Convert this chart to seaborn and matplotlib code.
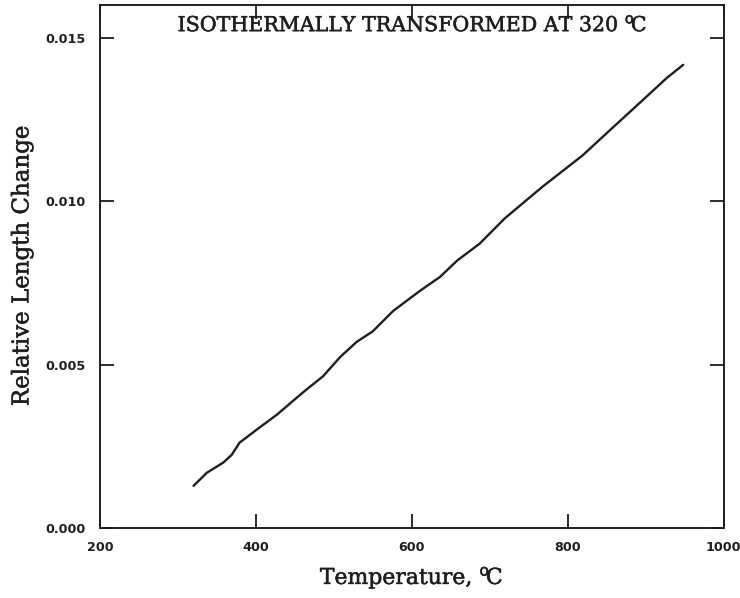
import matplotlib
matplotlib.use("Agg")
import matplotlib.pyplot as plt
import matplotlib.patheffects as pe
import seaborn as sns
import pandas as pd

# Dilatometer trace: temperature (°C) vs. relative length change
temperature = [320, 337, 358, 369, 379, 401, 427, 453, 465, 486, 508, 529, 550,
               576, 610, 636, 658, 687, 719, 768, 819, 854, 892, 927, 948]
length_change = [0.00129, 0.00169, 0.00200, 0.00224, 0.00261, 0.00301, 0.00347,
                 0.00400, 0.00424, 0.00464, 0.00523, 0.00569, 0.00602, 0.00664,
                 0.00725, 0.00768, 0.00818, 0.00870, 0.00947, 0.01045, 0.01140,
                 0.01217, 0.01300, 0.01377, 0.01417]

x_ticks = [200, 400, 600, 800, 1000]
x_tick_labels = ["200", "400", "600", "800", "1000"]
y_ticks = [0.000, 0.005, 0.010, 0.015]
y_tick_labels = ["0.000", "0.005", "0.010", "0.015"]

df = pd.DataFrame({"T": temperature, "dL": length_change})

sns.set_theme(style="ticks")
plt.rcParams["font.family"] = ["DejaVu Serif"]

ink = "#1e1e1e"
thick = [pe.withStroke(linewidth=0.35, foreground=ink)]

fig = plt.figure(figsize=(7.4, 5.98), dpi=100)
ax = fig.add_axes([0.1351, 0.117, 0.978 - 0.1351, 0.9916 - 0.117])

sns.lineplot(data=df, x="T", y="dL", ax=ax, color=ink, linewidth=1.7,
             sort=False, estimator=None)

ax.set_xlim(200, 1000)
ax.set_ylim(0, 0.016)
ax.set_xticks(x_ticks)
ax.set_yticks(y_ticks)
tick_font = dict(family="DejaVu Sans", weight="bold", size=9.2, color=ink)
ax.set_xticklabels(x_tick_labels, **tick_font)
ax.set_yticklabels(y_tick_labels, **tick_font)
ax.tick_params(axis="both", direction="in", length=10, width=1.3,
               top=True, right=True, color=ink)
ax.tick_params(axis="x", pad=9)
ax.tick_params(axis="y", pad=10)
for s in ax.spines.values():
    s.set_linewidth(1.4)
    s.set_color(ink)

xl = ax.set_xlabel("Temperature, $^{\\rm o}\\!$C", fontsize=15.8,
                   family="DejaVu Serif", color=ink, labelpad=8)
yl = ax.set_ylabel("Relative Length Change", fontsize=16.5, family="DejaVu Serif",
                   color=ink, labelpad=9)
title = ax.text(0.5, 0.982, "ISOTHERMALLY TRANSFORMED AT 320 $^{\\rm o}\\!$C",
                transform=ax.transAxes, ha="center", va="top", fontsize=14.8,
                family="DejaVu Serif", color=ink)
for t in (xl, yl, title):
    t.set_path_effects(thick)

fig.savefig("out.png", dpi=100)
